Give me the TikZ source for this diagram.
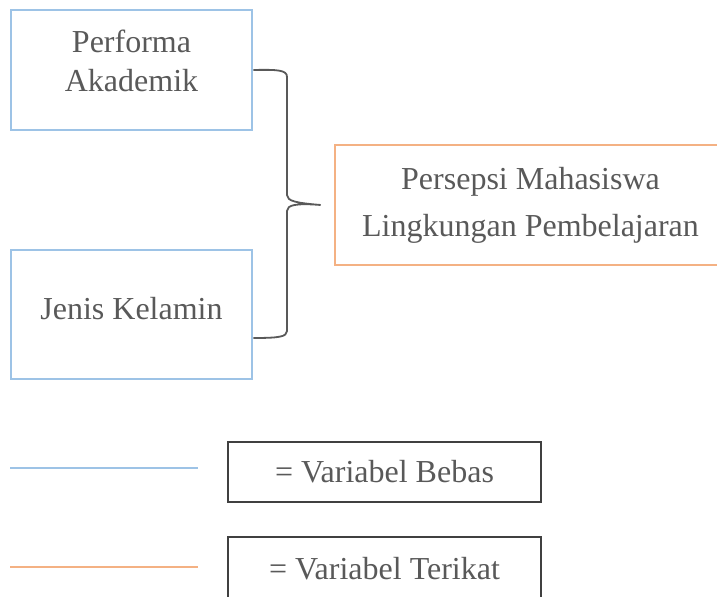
\documentclass[tikz,border=0pt]{standalone}
\usepackage{fontspec}
\setmainfont{Liberation Serif}
\usetikzlibrary{positioning}
\definecolor{biru}{HTML}{9DC3E6}
\definecolor{oranye}{HTML}{F4B183}
\definecolor{abu}{HTML}{595959}
\definecolor{abutua}{HTML}{404040}
\tikzset{
  teks/.style={text=abu, font=\fontsize{16}{19.5}\selectfont, align=center, inner sep=0pt},
  bebas/.style={draw=biru, line width=1.3pt, minimum width=120.5pt, minimum height=60pt},
  terikat/.style={draw=oranye, line width=1.3pt, minimum width=195.5pt, minimum height=60pt, teks, font=\fontsize{16}{23.5}\selectfont},
  ket/.style={draw=abutua, line width=1.2pt, minimum width=156.5pt, minimum height=30pt, teks}
}
\begin{document}
\begin{tikzpicture}[x=0.5pt, y=-0.5pt]
\useasboundingbox (0,0) rectangle (717,597);
\node[bebas] (performa) at (131.5,70) {};
\node[teks] (tperforma) at (131.5,61) {Performa\\Akademik};
\node[bebas, minimum height=64.5pt] (kelamin) at (131.5,314.5) {};
\node[teks] (tkelamin) at (131.5,309) {Jenis Kelamin};
\node[terikat] (persepsi) at (530.5,205) {Persepsi Mahasiswa\\Lingkungan Pembelajaran};
\coordinate (ujung) at ([xshift=-6.5pt]persepsi.west);
\coordinate (bawah) at ([yshift=-11.75pt]kelamin.east);
\draw[abu, line width=0.9pt] (performa.east) .. controls (278,69.5) and (287,70) .. (287,77)
  -- (287,195) .. controls (287,201) and (296,203) .. (ujung)
  .. controls (296,203) and (287,205) .. (287,211)
  -- (287,331) .. controls (287,337) and (278,338) .. (bawah);
\draw[biru, line width=1pt] (10,468) -- (198,468);
\draw[oranye, line width=1pt] (10,567) -- (198,567);
\node[ket] (vbebas) at (384.5,472) {= Variabel Bebas};
\node[ket, minimum height=32pt] (vterikat) at (384.5,569) {= Variabel Terikat};
\end{tikzpicture}
\end{document}
